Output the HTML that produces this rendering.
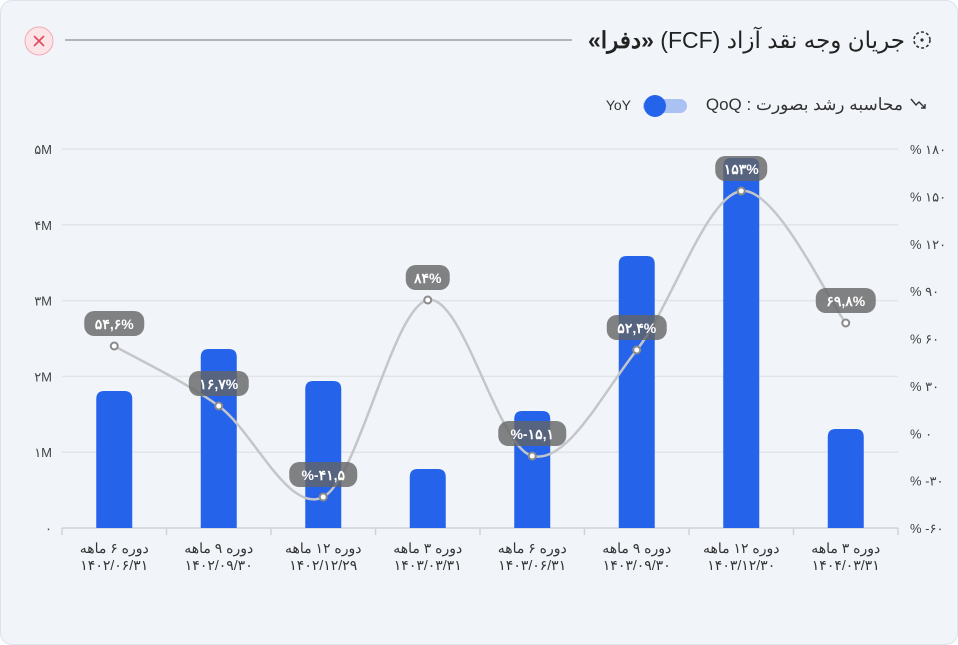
<!DOCTYPE html>
<html><head><meta charset="utf-8"><style>
html,body{margin:0;padding:0;background:#fff}
body{width:958px;height:645px;overflow:hidden;font-family:"Liberation Sans","Noto Sans CJK SC",sans-serif}
.card{position:absolute;left:0;top:0;width:956px;height:643px;background:#f1f5fa;border:1px solid #dde3ea;border-radius:12px}
.t{position:absolute;direction:rtl;white-space:nowrap;color:#222}
</style></head><body>
<div class="card"></div>
<div class="t" style="right:53px;top:25px;font-size:23px;line-height:30px">جریان وجه نقد آزاد (FCF) <b>«دفرا»</b></div>
<div class="t" style="right:55px;top:94px;font-size:17px;line-height:22px;color:#333">محاسبه رشد بصورت : QoQ</div>
<svg id="s" width="958" height="645" style="position:absolute;left:0;top:0" font-family="Liberation Sans, Noto Sans CJK SC, sans-serif">
<circle cx="39" cy="41" r="14" fill="#fbe3e6" stroke="#f3aab5" stroke-width="1"/>
<path d="M34.5 36.5 L43.5 45.5 M43.5 36.5 L34.5 45.5" stroke="#e0485e" stroke-width="1.6" stroke-linecap="round"/>
<line x1="65" y1="40" x2="572" y2="40" stroke="#8a8f96" stroke-width="1.2"/>
<circle cx="922" cy="40" r="8" fill="none" stroke="#333" stroke-width="1.6" stroke-dasharray="3 2.2"/>
<circle cx="922" cy="40" r="1.6" fill="#333"/>
<path d="M911 99 l5 6 l3 -3 l6 6 M921 108 h4 v-4" stroke="#333" stroke-width="1.4" fill="none"/>
<rect x="643" y="99" width="44" height="14" rx="7" fill="#a9c1f3"/>
<circle cx="655" cy="106" r="11" fill="#2563eb"/>
<text x="631" y="110" text-anchor="end" font-size="14" fill="#333">YoY</text>
<g id="grid"></g>
<g id="bars"></g>
<path id="line" fill="none" stroke="#c4c6c9" stroke-width="2.5"/>
<g id="pts"></g>
</svg>
<script>
const s=document.getElementById('s');const NS='http://www.w3.org/2000/svg';
function el(t,a,txt,p){const e=document.createElementNS(NS,t);for(const k in a)e.setAttribute(k,a[k]);if(txt!=null)e.textContent=txt;(p||s).appendChild(e);return e;}
const g=document.getElementById('grid'),b=document.getElementById('bars'),pt=document.getElementById('pts');
const left=62,right=898,y0=528,yt=149;
const ml=['۰','۱M','۲M','۳M','۴M','۵M'];
const rl=['% -۶۰','% -۳۰','% ۰','% ۳۰','% ۶۰','% ۹۰','% ۱۲۰','% ۱۵۰','% ۱۸۰'];
const O={'unicode-bidi':'bidi-override',direction:'ltr'};
for(let i=0;i<=5;i++){const y=y0-i*(y0-yt)/5;if(i>0)el('line',{x1:left,x2:right,y1:y,y2:y,stroke:'#e1e5ea','stroke-width':1.5},null,g);
el('text',Object.assign({x:52,y:y+5,'text-anchor':'end','font-size':13,fill:'#444'},O),ml[i],g);}
for(let i=0;i<=8;i++){const y=y0-i*(y0-yt)/8;el('text',Object.assign({x:910,y:y+5,'font-size':13,fill:'#444'},O),rl[i],g);}
el('line',{x1:left,x2:right,y1:y0,y2:y0,stroke:'#cfd4da','stroke-width':1.5},null,g);
const w=(right-left)/8;
for(let i=0;i<=8;i++){const x=left+i*w;el('line',{x1:x,x2:x,y1:y0,y2:y0+7,stroke:'#cfd4da','stroke-width':1.5},null,g);}
const tops=[391,349,381,469,411,256,158,429];
const l1=['دوره ۶ ماهه','دوره ۹ ماهه','دوره ۱۲ ماهه','دوره ۳ ماهه','دوره ۶ ماهه','دوره ۹ ماهه','دوره ۱۲ ماهه','دوره ۳ ماهه'];
const l2=['۱۴۰۲/۰۶/۳۱','۱۴۰۲/۰۹/۳۰','۱۴۰۲/۱۲/۲۹','۱۴۰۳/۰۳/۳۱','۱۴۰۳/۰۶/۳۱','۱۴۰۳/۰۹/۳۰','۱۴۰۳/۱۲/۳۰','۱۴۰۴/۰۳/۳۱'];
const py=[346,406,497,300,456,350,191,323];
const lab=['۵۴,۶%','۱۶,۷%','%-۴۱,۵','۸۴%','%-۱۵,۱','۵۲,۴%','۱۵۳%','۶۹,۸%'];
const P=[];
for(let i=0;i<8;i++){const c=left+w*(i+0.5);P.push([c,py[i]]);
el('path',{d:`M${c-18} ${y0} V${tops[i]+8} q0 -8 8 -8 h20 q8 0 8 8 V${y0}Z`,fill:'#2563eb'},null,b);
el('text',{x:c,y:553,'text-anchor':'middle','font-size':14,fill:'#333'},l1[i],b);
el('text',Object.assign({x:c,y:570,'text-anchor':'middle','font-size':14,fill:'#333'},O),l2[i],b);}
let d=`M${P[0][0]} ${P[0][1]}`;
for(let i=0;i<7;i++){const p0=P[Math.max(0,i-1)],p1=P[i],p2=P[i+1],p3=P[Math.min(7,i+2)];
d+=` C${p1[0]+(p2[0]-p0[0])/6} ${p1[1]+(p2[1]-p0[1])/6} ${p2[0]-(p3[0]-p1[0])/6} ${p2[1]-(p3[1]-p1[1])/6} ${p2[0]} ${p2[1]}`;}
document.getElementById('line').setAttribute('d',d);
for(let i=0;i<8;i++){const [x,y]=P[i];
el('circle',{cx:x,cy:y,r:3.5,fill:'#fff',stroke:'#8a8a8a','stroke-width':2},null,pt);
const tw=lab[i].length*8+20;
el('rect',{x:x-tw/2,y:y-35,width:tw,height:25,rx:10,fill:'rgba(100,100,100,0.8)'},null,pt);
el('text',Object.assign({x:x,y:y-17,'text-anchor':'middle','font-size':14,'font-weight':'bold',fill:'#fff'},O),lab[i],pt);}
</script>
</body></html>
